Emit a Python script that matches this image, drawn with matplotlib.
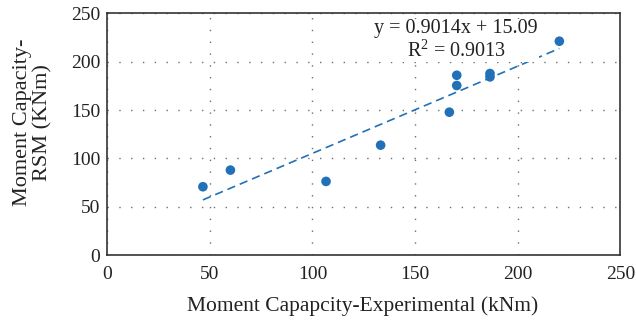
import matplotlib
matplotlib.use("Agg")
import matplotlib.pyplot as plt
import numpy as np

x_exp = [46.6, 60.0, 106.6, 133.2, 166.7, 170.3, 170.3, 186.5, 186.5, 220.3]
y_rsm = [70.7, 87.9, 76.2, 113.7, 147.8, 175.4, 186.0, 187.8, 184.3, 221.2]
slope, intercept = 0.9014, 15.09
ticks = [0, 50, 100, 150, 200, 250]

plt.rcParams['font.family'] = ['Liberation Serif', 'DejaVu Serif']
plt.rcParams['mathtext.fontset'] = 'custom'
plt.rcParams['mathtext.rm'] = 'Liberation Serif'
color = '#2271B8'
tc = '#222222'

fig = plt.figure(figsize=(6.36, 3.26), dpi=100)
ax = fig.add_axes([0.1687, 0.2175, 0.8066, 0.7415])

xs = np.array([min(x_exp), max(x_exp)])
ax.plot(xs, slope * xs + intercept, linestyle=(0, (5, 3)), color=color, lw=1.2, zorder=2)
ax.scatter(x_exp, y_rsm, s=48, color=color, zorder=3, edgecolors='none')

ax.set_xlim(0, 250)
ax.set_ylim(0, 250)
ax.set_xticks(ticks)
ax.set_yticks(ticks)
ax.tick_params(axis='both', length=0, labelsize=14, colors=tc)
ax.tick_params(axis='x', pad=8)
ax.tick_params(axis='y', pad=5)
ax.grid(True, linestyle=(0, (1, 7.5)), color='#6f6f6f', lw=1.0)
for s in ax.spines.values():
    s.set_color('#333333')
    s.set_linewidth(1.2)

ax.set_xlabel('Moment Capapcity-Experimental (kNm)', fontsize=15.5, color=tc, va='center')
ax.xaxis.set_label_coords(0.497, -0.21)
ax.set_ylabel('Moment Capacity-\nRSM (KNm)', fontsize=16, color=tc, linespacing=1.12, va='center')
ax.yaxis.set_label_coords(-0.145, 0.548)

ax.text(170, 222, 'y = 0.9014x + 15.09\nR$^\\mathregular{2}$ = 0.9013', fontsize=14.5, ha='center', va='center',
        color=tc, linespacing=1.1, bbox=dict(facecolor='white', edgecolor='none', pad=0.5))

fig.savefig('out.png', dpi=100)
